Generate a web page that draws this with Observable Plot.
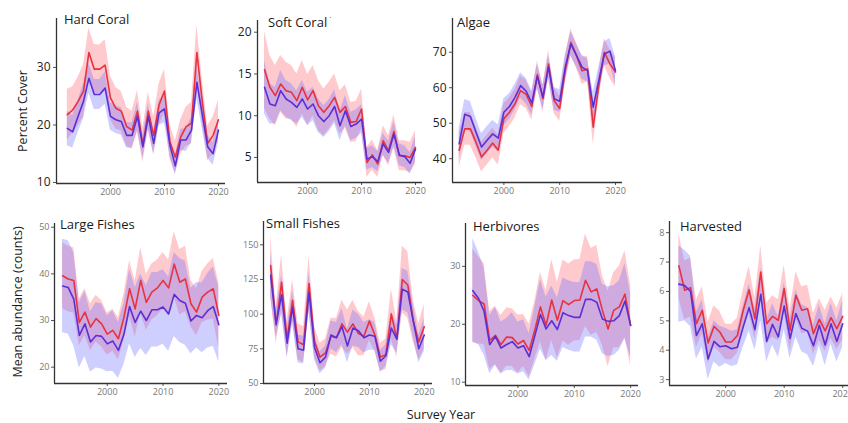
<!DOCTYPE html>
<html><head><meta charset="utf-8">
<script src="https://cdn.jsdelivr.net/npm/d3@7"></script>
<script src="https://cdn.jsdelivr.net/npm/@observablehq/plot@0.6"></script>
<style>
body{margin:0;background:#fff;font-family:"Open Sans",sans-serif}
#root{position:relative;width:848px;height:423px;overflow:hidden;background:#fff}
.ttl{position:absolute;font-size:13px;color:#1a1a1a;white-space:nowrap;line-height:1}
.lab{position:absolute;font-size:12.5px;color:#1a1a1a;white-space:nowrap;line-height:1}
svg{overflow:visible}
svg g[aria-label="x-axis tick label"]{fill:#777;font-size:9px}
svg.small g[aria-label="y-axis tick label"]{fill:#777;font-size:9px}
svg.big g[aria-label="y-axis tick label"]{fill:#222;font-size:12px}
</style></head><body><div id="root"></div>
<script>
const years = [1992,1993,1994,1995,1996,1997,1998,1999,2000,2001,2002,2003,2004,2005,2006,2007,2008,2009,2010,2011,2012,2013,2014,2015,2016,2017,2018,2019,2020];

// Hard Coral
const hcRed  = [21.8,22.6,24.1,25.9,32.6,29.7,29.7,30.4,24.7,22.9,22.4,19.7,19.1,22.4,16.5,22.4,18.2,23.5,25.9,17.1,14.4,17.9,19.7,20.3,32.6,24.1,16.8,18.2,20.9];
const hcRedHw= [4.4,4.0,4.2,4.5,4.2,4.3,4.2,4.4,3.8,3.6,3.4,3.4,3.3,3.6,3.0,3.3,3.2,3.6,3.8,3.0,2.8,3.0,3.4,3.6,4.8,3.8,3.0,3.2,3.4];
const hcBlue = [19.4,18.8,21.5,24.1,28.1,25.3,25.3,26.4,21.5,20.9,20.6,18.2,18.2,21.5,16.2,21.5,16.8,22.1,22.8,16.5,12.9,17.4,17.4,19.1,27.4,21.8,16.2,15.0,19.1];
const hcBlueHw=[3.0,2.8,2.8,3.0,2.6,2.6,2.6,2.8,2.4,2.4,2.4,2.2,2.2,2.4,2.0,2.2,2.0,2.2,2.4,1.8,1.6,1.8,2.0,2.2,2.8,2.4,2.0,2.0,2.2];

// Soft Coral
const scRed  = [15.5,13.4,12.4,13.8,13.0,12.8,11.8,13.4,11.9,13.0,11.2,10.4,11.2,12.2,10.4,11.1,9.2,9.3,10.8,4.4,5.3,4.2,7.0,5.8,8.1,5.2,5.2,5.0,6.2];
const scRedHw= [4.6,3.8,3.6,3.4,3.4,3.2,3.2,3.2,3.0,3.0,3.0,2.8,2.8,2.8,2.6,2.6,2.4,2.4,2.4,1.8,1.8,1.6,1.8,1.8,2.0,1.8,1.8,1.8,2.0];
const scBlue = [13.4,11.4,11.2,13.0,12.0,11.6,11.0,12.0,10.8,11.4,10.0,9.3,10.0,11.1,8.8,10.6,8.7,9.0,9.6,4.8,5.1,4.5,6.6,5.6,7.8,5.3,5.1,4.3,6.0];
const scBlueHw=[3.2,2.4,2.2,2.4,2.2,2.2,2.0,2.2,2.0,2.0,2.0,1.9,1.9,2.0,1.8,1.8,1.7,1.7,1.7,1.3,1.3,1.2,1.3,1.3,1.5,1.3,1.3,1.3,1.5];

// Algae
const alRed  = [42.4,48.4,48.4,44.7,40.5,42.4,44.4,42.4,51.3,53.1,55.5,59.2,58.1,54.7,63.7,56.9,66.7,56.4,54.1,64.8,72.8,69.1,64.8,65.3,48.9,60.6,70.0,66.7,64.4];
const alRedHw= [4.8,4.6,4.6,4.4,4.2,4.2,4.2,4.2,4.2,4.0,4.0,4.0,4.0,3.8,3.8,3.8,3.8,3.6,3.6,3.8,3.8,3.6,3.8,3.6,4.8,4.0,3.8,4.0,4.2];
const alBlue = [44.2,52.5,51.9,47.5,43.3,45.2,47.0,45.8,53.1,54.7,57.3,60.6,59.0,55.7,63.2,57.3,65.8,56.9,56.2,65.8,72.3,69.1,65.8,64.8,54.5,62.0,69.5,70.3,64.8];
const alBlueHw=[4.4,4.2,4.2,4.0,3.8,3.8,3.8,3.8,3.8,3.6,3.6,3.6,3.6,3.4,3.4,3.4,3.4,3.2,3.2,3.4,3.4,3.2,3.4,3.2,4.2,3.6,3.4,3.6,3.8];

// Large Fishes
const lfRed  = [39.6,38.9,38.6,29.6,31.8,28.6,30.4,29.3,27.1,27.9,26.1,30.7,36.8,32.5,38.6,33.9,36.1,37.0,38.6,37.0,42.1,38.2,38.9,33.6,31.8,35.0,36.1,36.8,31.1];
const lfRedHw= [7.0,7.0,7.0,5.0,5.0,5.0,5.0,5.0,4.5,4.5,4.5,5.0,6.0,6.0,7.0,6.0,6.0,6.0,6.0,6.0,7.0,7.0,7.0,5.0,5.0,5.5,6.0,6.5,7.0];
const lfBlue = [37.4,37.1,34.6,26.8,29.3,25.4,26.8,26.6,25.0,25.6,23.6,27.1,33.0,29.6,32.0,30.0,32.3,32.3,32.9,31.4,35.6,34.3,33.7,29.9,31.1,30.6,32.1,33.0,29.1];
const lfBlueHw=[10.0,10.0,10.0,7.0,7.0,6.5,7.0,7.0,6.0,6.5,6.0,6.5,8.0,7.5,8.0,7.5,8.0,8.0,8.0,8.0,9.0,9.0,9.0,7.0,7.0,7.5,8.0,8.5,8.0];

// Small Fishes
const sfRed  = [135,92,123,82,110,80,78,122,80,69,72,84,83,93,87,93,86,84,95,85,69,71,100,82,125,121,95,80,91];
const sfRedHw= [22,13,20,13,15,13,13,20,11,10,10,13,14,17,16,17,16,14,14,12,10,11,18,13,24,24,15,13,16];
const sfBlue = [128,93,114,79,105,75,74,116,76,65,69,85,83,91,77,90,88,83,85,84,66,70,90,82,118,116,95,75,85];
const sfBlueHw=[16,10,14,10,12,10,10,14,9,8,8,10,11,13,12,13,12,11,11,10,8,8,12,10,15,15,12,10,12];

// Herbivores
const hbRed  = [25.0,24.1,23.5,17.2,18.1,16.5,17.8,17.7,16.6,17.2,15.5,19.0,23.0,19.8,24.2,20.7,24.1,23.4,24.1,24.2,27.6,25.6,26.1,22.4,19.2,22.4,23.0,25.2,19.8];
const hbRedHw= [8.0,7.5,7.0,5.0,5.0,5.0,5.0,5.0,5.0,4.5,4.5,5.0,6.0,6.0,7.0,6.5,7.0,7.0,7.0,7.0,8.0,7.5,7.5,6.0,6.5,6.5,7.0,7.5,7.0];
const hbBlue = [25.8,24.5,22.2,16.5,17.9,15.9,16.5,17.0,15.9,16.3,14.4,18.0,21.7,19.2,20.6,19.1,22.0,21.5,21.2,21.2,24.3,24.3,23.8,20.9,20.5,20.6,21.5,24.0,19.8];
const hbBlueHw=[9.0,8.0,7.5,5.0,5.0,4.5,4.5,5.0,4.5,4.5,4.0,5.0,6.0,5.5,6.0,5.5,6.0,6.0,6.0,6.0,6.5,6.5,6.5,6.0,6.0,6.0,6.0,6.5,5.5];

// Harvested
const hvRed  = [6.87,6.04,6.13,4.90,5.36,4.25,4.81,4.62,4.28,4.28,4.50,5.36,6.06,5.07,6.66,4.90,5.15,5.02,6.10,4.68,5.87,5.36,5.41,4.56,5.05,4.66,5.11,4.73,5.15];
const hvRedHw= [1.1,1.0,1.0,0.8,0.8,0.7,0.7,0.7,0.6,0.6,0.6,0.7,0.8,0.7,0.9,0.7,0.7,0.7,0.8,0.7,0.8,0.8,0.8,0.7,0.7,0.7,0.7,0.7,0.8];
const hvBlue = [6.25,6.20,6.00,4.50,4.90,3.70,4.30,4.12,4.15,4.05,4.10,4.80,5.45,4.70,5.90,4.30,4.88,4.45,5.50,4.40,5.25,4.75,4.65,4.15,4.85,4.18,4.90,4.30,4.90];
const hvBlueHw=[1.3,1.2,1.2,0.8,0.8,0.7,0.7,0.7,0.6,0.6,0.6,0.7,0.8,0.7,0.9,0.7,0.7,0.7,0.8,0.7,0.8,0.8,0.8,0.7,0.7,0.7,0.7,0.7,0.8];

const xTicks = [2000, 2010, 2020];

const panels = [
  {name:"Hard Coral", red:hcRed, redHw:hcRedHw, blue:hcBlue, blueHw:hcBlueHw, L:56, R:225, T:18, B:183, xd:[1990.0,2021.3], yd:[9.83,38.5], yTicks:[10,20,30], big:true, tx:64, ty:13},
  {name:"Soft Coral", red:scRed, redHw:scRedHw, blue:scBlue, blueHw:scBlueHw, L:257, R:422, T:20, B:182, xd:[1990.7,2021.3], yd:[2.0,21.4], yTicks:[5,10,15,20], big:true, tx:268, ty:16, mark:true},
  {name:"Algae", red:alRed, redHw:alRedHw, blue:alBlue, blueHw:alBlueHw, L:452, R:622, T:18, B:182, xd:[1990.8,2021.25], yd:[33.3,79.5], yTicks:[40,50,60,70], big:true, tx:457, ty:16},
  {name:"Large Fishes", red:lfRed, redHw:lfRedHw, blue:lfBlue, blueHw:lfBlueHw, L:54, R:227, T:223, B:383, xd:[1990.55,2021.55], yd:[16.5,50.8], yTicks:[20,30,40,50], big:false, tx:60, ty:218},
  {name:"Small Fishes", red:sfRed, redHw:sfRedHw, blue:sfBlue, blueHw:sfBlueHw, L:263, R:432, T:221, B:383, xd:[1990.7,2021.5], yd:[50,166.8], yTicks:[50,75,100,125,150], big:false, tx:266, ty:217},
  {name:"Herbivores", red:hbRed, redHw:hbRedHw, blue:hbBlue, blueHw:hbBlueHw, L:465, R:638, T:223, B:385, xd:[1990.7,2021.4], yd:[9.43,37.4], yTicks:[10,20,30], big:false, tx:473, ty:220},
  {name:"Harvested", red:hvRed, redHw:hvRedHw, blue:hvBlue, blueHw:hvBlueHw, L:669, R:851, T:221, B:385, xd:[1990.4,2021.5], yd:[2.8,8.38], yTicks:[3,4,5,6,7,8], big:false, tx:680, ty:220}
];

const root = document.getElementById("root");
const RED = "#e8323f", BLUE = "#5b2fd6";

for (const p of panels) {
  const mL = 40, mR = 2, mT = 2, mB = 26;
  const data = years.map((yr, i) => ({
    year: yr,
    rm: p.red[i], rlo: p.red[i] - p.redHw[i], rhi: p.red[i] + p.redHw[i],
    bm: p.blue[i], blo: p.blue[i] - p.blueHw[i], bhi: p.blue[i] + p.blueHw[i]
  }));
  const chart = Plot.plot({
    width: (p.R - p.L) + mL + mR,
    height: (p.B - p.T) + mT + mB,
    marginLeft: mL, marginRight: mR, marginTop: mT, marginBottom: mB,
    style: {fontFamily: '"Open Sans", sans-serif', color: "#333", background: "transparent"},
    x: {domain: p.xd, axis: null},
    y: {domain: p.yd, axis: null},
    marks: [
      Plot.areaY(data, {x: "year", y1: "rlo", y2: "rhi", fill: "#ff5a66", fillOpacity: 0.32, curve: "linear", clip: true}),
      Plot.areaY(data, {x: "year", y1: "blo", y2: "bhi", fill: "#6a6aff", fillOpacity: 0.33, curve: "linear", clip: true}),
      Plot.lineY(data, {x: "year", y: "rm", stroke: RED, strokeWidth: 1.6, clip: true}),
      Plot.lineY(data, {x: "year", y: "bm", stroke: BLUE, strokeWidth: 1.6, clip: true}),
      Plot.axisX({ticks: xTicks, tickFormat: d => String(d), tickSize: 3, tickPadding: 2, label: null, stroke: "#555"}),
      Plot.axisY({ticks: p.yTicks, tickFormat: d => String(d), tickSize: 3, tickPadding: p.big ? 3 : 2, label: null, stroke: "#555"}),
      Plot.ruleY([p.yd[0]], {stroke: "#333", strokeWidth: 1.3}),
      Plot.ruleX([p.xd[0]], {stroke: "#333", strokeWidth: 1.3})
    ]
  });
  chart.classList.add(p.big ? "big" : "small");
  chart.style.position = "absolute";
  chart.style.left = (p.L - mL) + "px";
  chart.style.top = (p.T - mT) + "px";
  root.appendChild(chart);

  const t = document.createElement("div");
  t.className = "ttl";
  t.style.left = p.tx + "px";
  t.style.top = p.ty + "px";
  t.textContent = p.name;
  if (p.mark) {
    const s = document.createElement("span");
    s.textContent = " ˙";
    s.style.fontSize = "9px";
    s.style.verticalAlign = "top";
    t.appendChild(s);
  }
  root.appendChild(t);
}

function label(text, x, y, rot) {
  const d = document.createElement("div");
  d.className = "lab";
  d.textContent = text;
  d.style.left = x + "px";
  d.style.top = y + "px";
  d.style.transform = "translate(-50%,-50%)" + (rot ? " rotate(-90deg)" : "");
  root.appendChild(d);
}
label("Percent Cover", 23, 111, true);
label("Mean abundance (counts)", 18, 302, true);
label("Survey Year", 441, 415, false);
</script></body></html>
